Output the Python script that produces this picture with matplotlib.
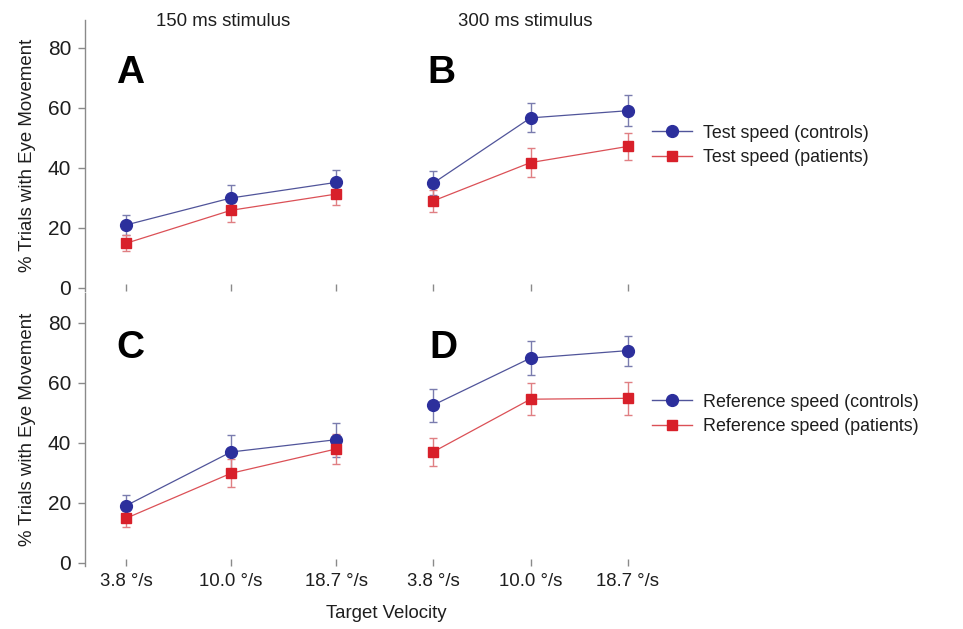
import matplotlib
matplotlib.use("Agg")
import matplotlib.pyplot as plt
from matplotlib.lines import Line2D

plt.rcParams['font.family'] = ['Liberation Sans', 'DejaVu Sans']

categories = ["3.8 °/s", "10.0 °/s", "18.7 °/s"]
yticks = [0, 20, 40, 60, 80]

ctrl_A = [21.0, 30.0, 35.2]
ctrl_A_err = [3.2, 4.3, 4.2]
pat_A = [14.9, 25.9, 31.3]
pat_A_err = [2.6, 3.8, 3.5]

ctrl_B = [34.9, 56.7, 59.1]
ctrl_B_err = [4.0, 4.8, 5.2]
pat_B = [29.0, 41.8, 47.2]
pat_B_err = [3.6, 4.8, 4.4]

ctrl_C = [19.1, 37.0, 41.1]
ctrl_C_err = [3.6, 5.8, 5.7]
pat_C = [14.9, 29.9, 38.0]
pat_C_err = [2.8, 4.7, 5.0]

ctrl_D = [52.6, 68.3, 70.8]
ctrl_D_err = [5.5, 5.6, 5.0]
pat_D = [37.0, 54.6, 54.9]
pat_D_err = [4.6, 5.4, 5.6]

W, H = 963, 629
fig = plt.figure(figsize=(W / 100, H / 100), dpi=100)

BLUE = '#2c2f9c'
BLUE_LINE = '#50549a'
BLUE_ERR = '#7a7cae'
RED = '#d8202a'
RED_LINE = '#db5056'
RED_ERR = '#e07f83'
TXT = '#1e1e1e'
GRAY = '#8a8a8a'
FS = 13.4
LFS = 12.9


def px_axes(x0, x1, ytop, ybot):
    return fig.add_axes([x0 / W, 1 - ybot / H, (x1 - x0) / W, (ybot - ytop) / H])


def style(ax, left, showx, ylim, xlim):
    ax.set_xlim(*xlim)
    ax.set_ylim(*ylim)
    for s in ['top', 'right', 'bottom']:
        ax.spines[s].set_visible(False)
    ax.set_xticks(range(len(categories)))
    ax.tick_params(axis='x', direction='in', length=5, width=1, color=GRAY,
                   pad=5, labelsize=FS, labelcolor=TXT)
    if showx:
        ax.set_xticklabels(categories)
    else:
        ax.set_xticklabels([])
    if left:
        ax.spines['left'].set_color(GRAY)
        ax.spines['left'].set_linewidth(1)
        ax.set_yticks(yticks)
        ax.tick_params(axis='y', direction='out', length=5, width=1, color=GRAY,
                       pad=5, labelsize=15, labelcolor=TXT)
        ax.set_ylabel('% Trials with Eye Movement', fontsize=FS, color=TXT)
        ax.yaxis.set_label_coords((36 - 85) / 300, 0.5)
    else:
        ax.spines['left'].set_visible(False)
        ax.set_yticks([])
    ax.patch.set_alpha(0)


def draw(ax, c, ce, p, pe):
    x = list(range(len(categories)))
    ax.errorbar(x, c, yerr=ce, fmt='none', ecolor=BLUE_ERR, elinewidth=1,
                capsize=3, capthick=1, zorder=2, clip_on=False)
    ax.errorbar(x, p, yerr=pe, fmt='none', ecolor=RED_ERR, elinewidth=1,
                capsize=3, capthick=1, zorder=2, clip_on=False)
    ax.plot(x, c, color=BLUE_LINE, lw=0.9, zorder=3, clip_on=False)
    ax.plot(x, p, color=RED_LINE, lw=0.9, zorder=3, clip_on=False)
    ax.plot(x, c, 'o', color=BLUE, markersize=8.5, mec=BLUE, zorder=4, clip_on=False)
    ax.plot(x, p, 's', color=RED, markersize=6.5, mec=RED, zorder=5, clip_on=False)


xlim_left = ((85 - 126) / 105, (385 - 126) / 105)
xlim_right = ((400 - 433) / 97.5, (660 - 433) / 97.5)
ylim_top = (-1, 89.33)
ylim_bot = (-1, 90)

axA = px_axes(85, 385, 20, 291)
axB = px_axes(400, 660, 20, 291)
axC = px_axes(85, 385, 293, 566)
axD = px_axes(400, 660, 293, 566)

style(axA, True, False, ylim_top, xlim_left)
style(axB, False, False, ylim_top, xlim_right)
style(axC, True, True, ylim_bot, xlim_left)
style(axD, False, True, ylim_bot, xlim_right)

draw(axA, ctrl_A, ctrl_A_err, pat_A, pat_A_err)
draw(axB, ctrl_B, ctrl_B_err, pat_B, pat_B_err)
draw(axC, ctrl_C, ctrl_C_err, pat_C, pat_C_err)
draw(axD, ctrl_D, ctrl_D_err, pat_D, pat_D_err)

# panel letters
for letter, x, y in [('A', 116, 83), ('B', 427, 83), ('C', 116, 358), ('D', 429, 358)]:
    fig.text(x / W, 1 - y / H, letter, fontsize=28, fontweight='bold', color='black',
             ha='left', va='baseline')

# column titles and x label
fig.text(223 / W, 1 - 21 / H, '150 ms stimulus', fontsize=FS, color=TXT, ha='center', va='center')
fig.text(525 / W, 1 - 21 / H, '300 ms stimulus', fontsize=FS, color=TXT, ha='center', va='center')
fig.text(386 / W, 1 - 613 / H, 'Target Velocity', fontsize=FS, color=TXT, ha='center', va='center')


def legend(labels, ycenter):
    h = [Line2D([], [], color=BLUE_LINE, lw=1, marker='o', markersize=8.5, mfc=BLUE, mec=BLUE),
         Line2D([], [], color=RED_LINE, lw=1, marker='s', markersize=6.5, mfc=RED, mec=RED)]
    leg = fig.legend(h, labels, loc='center left', bbox_to_anchor=(652 / W, 1 - ycenter / H),
                     frameon=False, fontsize=LFS, handlelength=2.25, handletextpad=0.6,
                     labelspacing=0.42, borderpad=0, borderaxespad=0)
    for t in leg.get_texts():
        t.set_color(TXT)
    return leg


legend(['Test speed (controls)', 'Test speed (patients)'], 145.5)
legend(['Reference speed (controls)', 'Reference speed (patients)'], 414.5)

fig.savefig('out.png', dpi=100)
